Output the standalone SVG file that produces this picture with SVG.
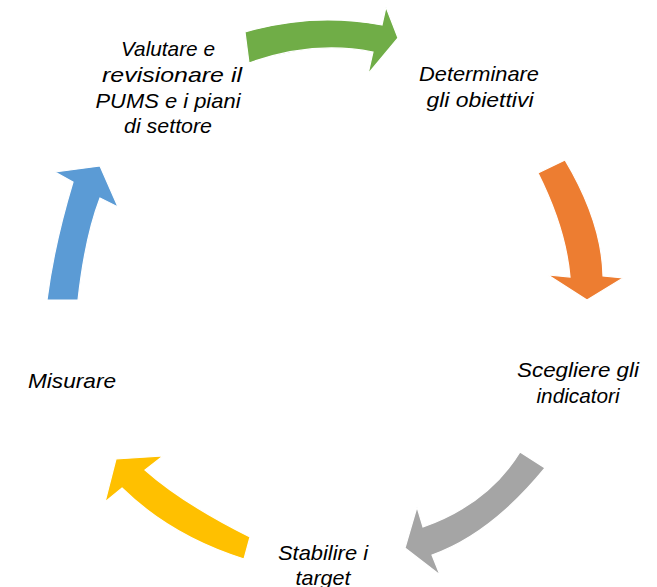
<svg xmlns="http://www.w3.org/2000/svg" width="657" height="587" viewBox="0 0 657 587">
<style>
.arr{stroke:#ffffff;stroke-width:1.2;stroke-linejoin:miter}
.lbl{font-family:"Liberation Sans",Arial,sans-serif;font-style:italic;font-size:21px;fill:#000;text-anchor:middle}
</style>
<rect width="657" height="587" fill="#ffffff"/>
<g id="connectors">
<path id="arrow-green" class="arr" fill="#70AD47" d="M245,32 Q313,12 382,25 L386,7 L398,38 L368,74 L373,52 Q313,40 249,63 Z"/>
<path id="arrow-orange" class="arr" fill="#ED7D31" d="M538,173 L565,160 Q602,222 603,276 L623,278 L587,300 L548,275 L570,277 Q566,229 538,173 Z"/>
<path id="arrow-gray" class="arr" fill="#A5A5A5" d="M520,452 L545,468 Q491,534 432,555 L440,575 L405,548 L417,507 L423,527 Q488,504 520,452 Z"/>
<path id="arrow-yellow" class="arr" fill="#FFC000" d="M250,537 L244,559 Q171,536 122,488 L105,502 L116,459 L163,456 L145,470 Q182,503 250,537 Z"/>
<path id="arrow-blue" class="arr" fill="#5B9BD5" d="M47,300 L78,300 Q85,237 100,198 L118,207 L100,166 L55,172 L73,182 Q54,245 47,300 Z"/>
</g>
<g id="node-valutare">
<text class="lbl" x="168" y="56" textLength="94" lengthAdjust="spacingAndGlyphs">Valutare e</text>
<text class="lbl" x="172" y="82" textLength="140" lengthAdjust="spacingAndGlyphs">revisionare il</text>
<text class="lbl" x="168" y="108" textLength="145" lengthAdjust="spacingAndGlyphs">PUMS e i piani</text>
<text class="lbl" x="168" y="133" textLength="88" lengthAdjust="spacingAndGlyphs">di settore</text>
</g>
<g id="node-determinare">
<text class="lbl" x="479" y="81" textLength="120" lengthAdjust="spacingAndGlyphs">Determinare</text>
<text class="lbl" x="480" y="107" textLength="107" lengthAdjust="spacingAndGlyphs">gli obiettivi</text>
</g>
<g id="node-scegliere">
<text class="lbl" x="578" y="377" textLength="122" lengthAdjust="spacingAndGlyphs">Scegliere gli</text>
<text class="lbl" x="578" y="403" textLength="83" lengthAdjust="spacingAndGlyphs">indicatori</text>
</g>
<g id="node-stabilire">
<text class="lbl" x="323" y="560" textLength="90" lengthAdjust="spacingAndGlyphs">Stabilire i</text>
<text class="lbl" x="323" y="585" textLength="55" lengthAdjust="spacingAndGlyphs">target</text>
</g>
<g id="node-misurare">
<text class="lbl" x="72" y="388" textLength="88" lengthAdjust="spacingAndGlyphs">Misurare</text>
</g>
</svg>
